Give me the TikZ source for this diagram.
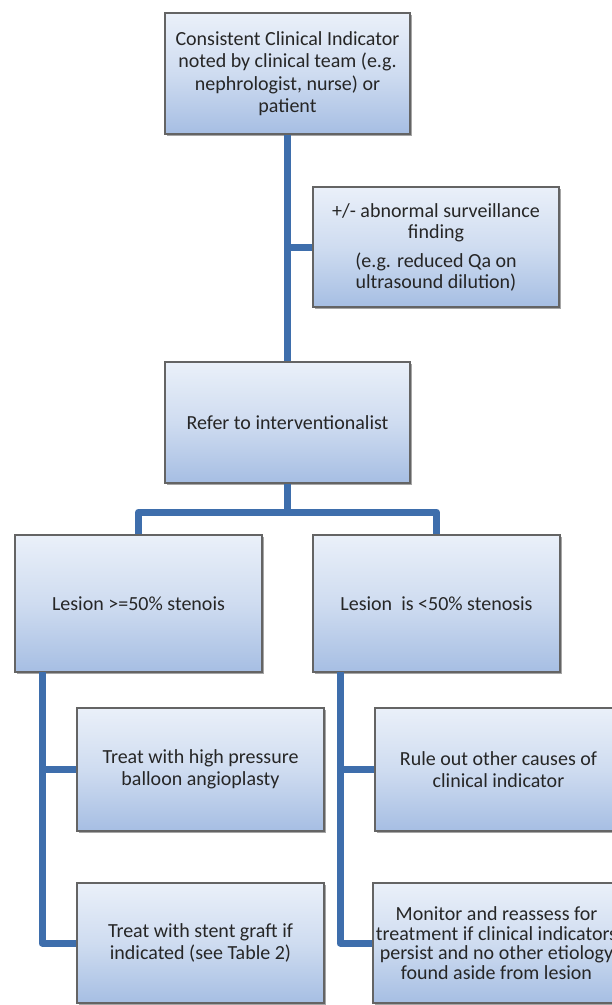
\documentclass[tikz,border=0pt]{standalone}
\usepackage{fontspec}
\setmainfont{Carlito}
\usetikzlibrary{shadows}
\definecolor{linkblue}{RGB}{62,110,172}
\definecolor{boxtop}{RGB}{234,240,249}
\definecolor{boxbot}{RGB}{166,190,227}
\definecolor{boxedge}{RGB}{100,100,100}
\definecolor{txt}{RGB}{38,38,38}
\tikzset{
  flowbox/.style={rectangle, draw=boxedge, line width=1.2pt,
    top color=boxtop, bottom color=boxbot, middle color=boxtop!60!boxbot,
    text=txt, align=center, inner sep=2pt,
    font=\fontsize{20}{22.5}\selectfont,
    drop shadow={shadow xshift=2pt, shadow yshift=-2pt, fill=black, opacity=0.35}},
  link/.style={draw=linkblue, line width=7pt, line join=round, line cap=butt}
}
\begin{document}
\begin{tikzpicture}[x=1pt,y=-1pt]
\useasboundingbox (0,0) rectangle (612,1005);
\clip (0,0) rectangle (612,1005);
\coordinate (jtop) at (287.5,512);
\coordinate (lt) at (42,672);
\coordinate (rt) at (340,672);
\node[flowbox, minimum width=245pt, minimum height=121pt] (b1) at (287.5,73.5)
  {Consistent Clinical Indicator\\noted by clinical team (e.g.\\nephrologist, nurse) or\\patient};
\node[flowbox, minimum width=246pt, minimum height=120pt, font=\fontsize{20}{21}\selectfont] (b2) at (436,247)
  {+/- abnormal surveillance\\finding\\[8pt](e.g. reduced Qa on\\ultrasound dilution)};
\node[flowbox, minimum width=245pt, minimum height=121pt] (b3) at (287.5,422.5)
  {Refer to interventionalist};
\node[flowbox, minimum width=247pt, minimum height=137pt] (b4) at (138.5,603.5)
  {Lesion {>}={}50\% stenois};
\node[flowbox, minimum width=247pt, minimum height=137pt] (b5) at (436.5,603.5)
  {Lesion\ \ is {<}50\% stenosis};
\node[flowbox, minimum width=247pt, minimum height=123pt] (b6) at (200.5,769.5)
  {Treat with high pressure\\balloon angioplasty};
\node[flowbox, minimum width=247pt, minimum height=120pt] (b7) at (200.5,943)
  {Treat with stent graft if\\indicated (see Table 2)};
\node[flowbox, minimum width=247pt, minimum height=123pt] (b8) at (498.5,769.5)
  {Rule out other causes of\\clinical indicator};
\node[flowbox, minimum width=247pt, minimum height=120pt, font=\fontsize{20}{19.5}\selectfont] (b9) at (496.5,943)
  {Monitor and reassess for\\treatment if clinical indicators\\persist and no other etiology\\found aside from lesion};
\draw[link] (b1.south) -- (b3.north);
\draw[link] (b2.west) -- (b2.west -| b1.south);
\draw[link] (b3.south) -- (jtop);
\draw[link] (b4.north) |- (jtop) -| (b5.north);
\draw[link] (lt) |- (b7.west);
\draw[link] (b6.west) -- (b6.west -| lt);
\draw[link] (rt) |- (b9.west);
\draw[link] (b8.west) -- (b8.west -| rt);
\end{tikzpicture}
\end{document}
